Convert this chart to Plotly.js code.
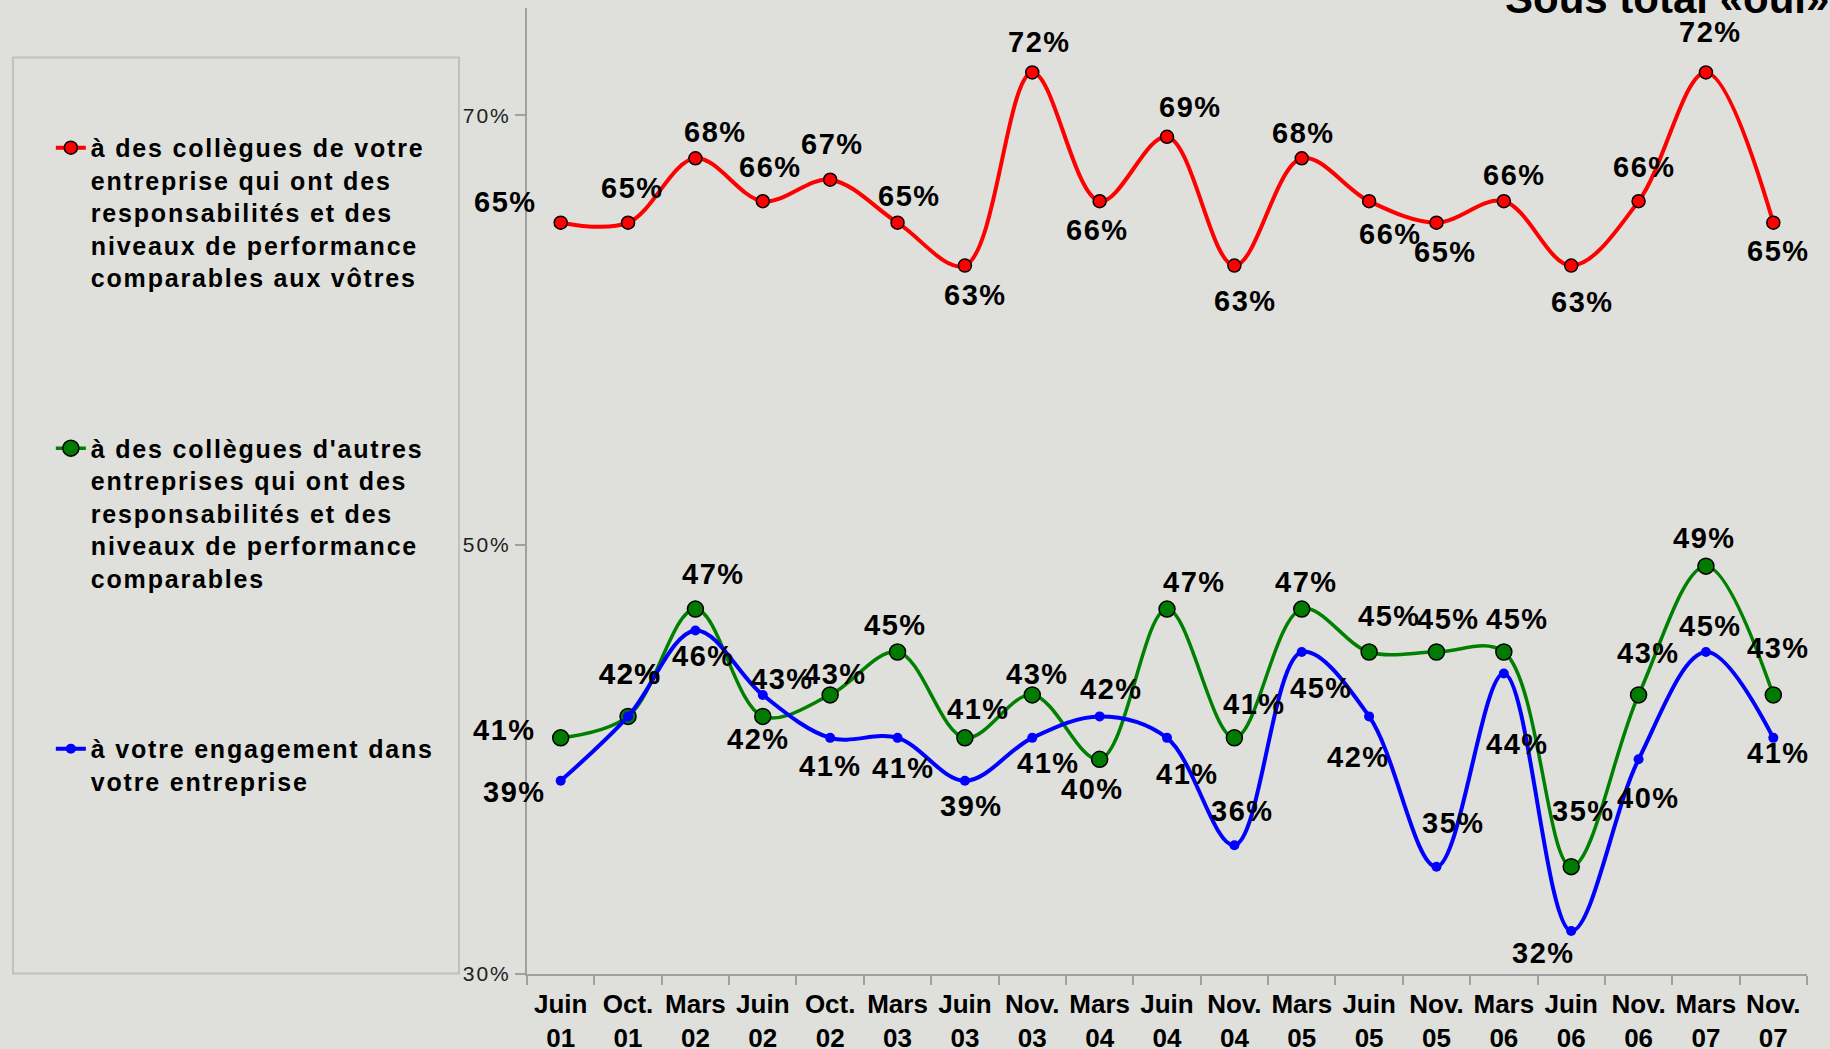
<!DOCTYPE html>
<html>
<head>
<meta charset="utf-8">
<script src="https://cdn.plot.ly/plotly-3.0.1.min.js"></script>
<style>
  html, body { margin: 0; padding: 0; background: #dfdfdb; }
  #chart { width: 1830px; height: 1049px; }
  .legendtext { letter-spacing: 1.8px; }
  .annotation-text { letter-spacing: 1.5px; }
  .ytick text { letter-spacing: 2px; }
</style>
</head>
<body>
<div id="chart"></div>
<script>
// ---- Data ----
const periods = ['Juin 01','Oct. 01','Mars 02','Juin 02','Oct. 02','Mars 03','Juin 03','Nov. 03','Mars 04','Juin 04',
                 'Nov. 04','Mars 05','Juin 05','Nov. 05','Mars 06','Juin 06','Nov. 06','Mars 07','Nov. 07'];
const seriesNames = [
  "à des collègues de votre<br>entreprise qui ont des<br>responsabilités et des<br>niveaux de performance<br>comparables aux vôtres",
  "à des collègues d'autres<br>entreprises qui ont des<br>responsabilités et des<br>niveaux de performance<br>comparables",
  "à votre engagement dans<br>votre entreprise"
];
const sameCompany  = [65, 65, 68, 66, 67, 65, 63, 72, 66, 69, 63, 68, 66, 65, 66, 63, 66, 72, 65];
const otherCompany = [41, 42, 47, 42, 43, 45, 41, 43, 40, 47, 41, 47, 45, 45, 45, 35, 43, 49, 43];
const engagement   = [39, 42, 46, 43, 41, 41, 39, 41, 42, 41, 36, 45, 42, 35, 44, 32, 40, 45, 41];
const yTicks = [30, 50, 70];
const chartTitle = 'Sous total «oui»';

// ---- Label offsets (pixels, styling only) ----
const offRed = [[-55,21],[4,35],[20,26],[8,34],[2,36],[12,27],[11,-29],[7,30],[-2,-29],[23,30],
                [11,-35],[2,25],[21,-33],[9,-29],[11,26],[11,-36],[6,34],[5,40],[5,-28]];
const offGreen = [[-56,8],[2,42],[18,35],[-4,-23],[5,21],[-2,27],[14,29],[5,21],[-7,-30],[27,27],
                  [20,34],[5,27],[20,36],[12,33],[14,33],[12,56],[10,42],[-1,28],[5,47]];
const offBlue = [[-46,-11],[2,42],[8,-25],[20,16],[0,-28],[6,-30],[7,-25],[16,-25],[12,27],[20,-36],
                 [8,34],[20,-36],[-11,-41],[17,44],[14,-71],[-28,-22],[10,-39],[5,26],[5,-15]];

const xCats = periods.map(p => p.replace(' ', '<br>'));

const traces = [
  {x: xCats, y: sameCompany, name: seriesNames[0], legendgroup: 'a', mode: 'lines+markers',
   line: {color: '#ff0000', width: 4, shape: 'spline', smoothing: 1},
   marker: {color: '#ff0000', size: 13, line: {color: '#000000', width: 1.5}}},
  {x: xCats, y: otherCompany, name: seriesNames[1], legendgroup: 'b', mode: 'lines+markers',
   line: {color: '#008000', width: 3.5, shape: 'spline', smoothing: 1},
   marker: {color: '#007a00', size: 16, line: {color: '#000000', width: 1.5}}},
  {x: xCats, y: engagement, name: seriesNames[2], legendgroup: 'c', mode: 'lines+markers',
   line: {color: '#0000ff', width: 4, shape: 'spline', smoothing: 1},
   marker: {color: '#0000ff', size: 10}}
];

const labelFont = {family: 'Liberation Sans, Arial, sans-serif', size: 29, color: '#000000', weight: 'bold'};
const annotations = [];
[[sameCompany, offRed], [otherCompany, offGreen], [engagement, offBlue]].forEach(([vals, offs]) => {
  vals.forEach((v, i) => {
    annotations.push({x: xCats[i], y: v, xref: 'x', yref: 'y', text: v + '%', showarrow: false,
      xshift: offs[i][0], yshift: offs[i][1], font: labelFont});
  });
});

const layout = {
  width: 1830, height: 1049,
  paper_bgcolor: '#dfdfdb', plot_bgcolor: '#dfdfdb',
  margin: {l: 527, r: 23, t: 8, b: 75},
  title: {text: chartTitle, xref: 'container', yref: 'container', x: 1505 / 1830, xanchor: 'left',
    y: 1 - 13 / 1049, yanchor: 'bottom', pad: {t: 0, b: 0, l: 0, r: 0},
    font: {family: 'Liberation Sans, Arial, sans-serif', size: 42, color: '#000000', weight: 'bold'}},
  showlegend: true,
  legend: {x: -0.372, y: 0.879, xanchor: 'left', yanchor: 'top', bgcolor: 'rgba(0,0,0,0)',
    tracegroupgap: 135, valign: 'top',
    font: {family: 'Liberation Sans, Arial, sans-serif', size: 25, color: '#000000', weight: 'bold'}},
  xaxis: {type: 'category', range: [-0.5, 18.5], autorange: false, showgrid: false, zeroline: false,
    showline: true, linecolor: '#a0a0a0', linewidth: 2, tickangle: 0, ticklabelstandoff: 6,
    ticks: 'outside', tickson: 'boundaries', ticklen: 9, tickcolor: '#a0a0a0', tickwidth: 2,
    tickfont: {family: 'Liberation Sans, Arial, sans-serif', size: 26, color: '#000000', weight: 'bold'}},
  yaxis: {range: [30, 75], autorange: false, tickmode: 'array', tickvals: yTicks, ticktext: yTicks.map(v => v + '%'),
    showgrid: false, zeroline: false,
    showline: true, linecolor: '#a0a0a0', linewidth: 2, ticks: 'outside', ticklen: 10, tickcolor: '#a0a0a0', tickwidth: 2,
    tickfont: {family: 'Liberation Sans, Arial, sans-serif', size: 21, color: '#202020'}},
  shapes: [{type: 'rect', xref: 'paper', yref: 'paper', x0: -0.4016, x1: -0.0531, y0: 0.0005, y1: 0.9488,
    line: {color: '#c0c0c0', width: 2}, fillcolor: 'rgba(0,0,0,0)', layer: 'below'}],
  annotations: annotations
};

Plotly.newPlot('chart', traces, layout, {displayModeBar: false, staticPlot: true});
</script>
</body>
</html>
